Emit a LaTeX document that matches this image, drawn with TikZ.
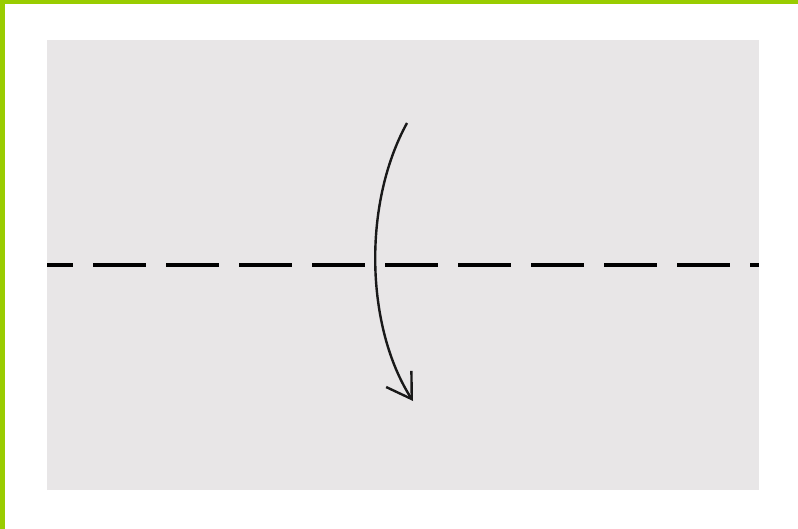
\documentclass[tikz,border=0pt]{standalone}
\usepackage{tikz}
\usepackage{xcolor}
\usetikzlibrary{arrows.meta}
\definecolor{frameGreen}{RGB}{153,204,0}
\definecolor{paperGray}{RGB}{232,230,231}
\tikzset{
    paper/.style={fill=paperGray, draw=none},
    foldline/.style={line width=4.5pt, draw=black, dash pattern=on 53pt off 20pt, dash phase=27pt},
    foldarrow/.style={-{Straight Barb[length=24pt, width=30pt, line width=2.4pt]}, line width=2.4pt, draw=black!90}
}
\begin{document}
\begin{tikzpicture}[x=1pt, y=-1pt]
    \useasboundingbox (0,0) rectangle (798,529);
    \fill[white] (0,0) rectangle (798,529);
    % frame
    \fill[frameGreen] (0,0) rectangle (5,529);
    \fill[frameGreen] (0,0) rectangle (798,4);
    % sheet of paper
    \fill[paper] (47,40) rectangle (759,490);
    % valley fold
    \coordinate (foldL) at (47,265);
    \coordinate (foldR) at (759,265);
    \draw[foldline] (foldL) -- (foldR);
    % fold direction
    \coordinate (arrStart) at (407,123);
    \coordinate (arrEnd) at (413,401);
    \draw[foldarrow] (arrStart) .. controls (362,205) and (366,328) .. (arrEnd);
\end{tikzpicture}
\end{document}
